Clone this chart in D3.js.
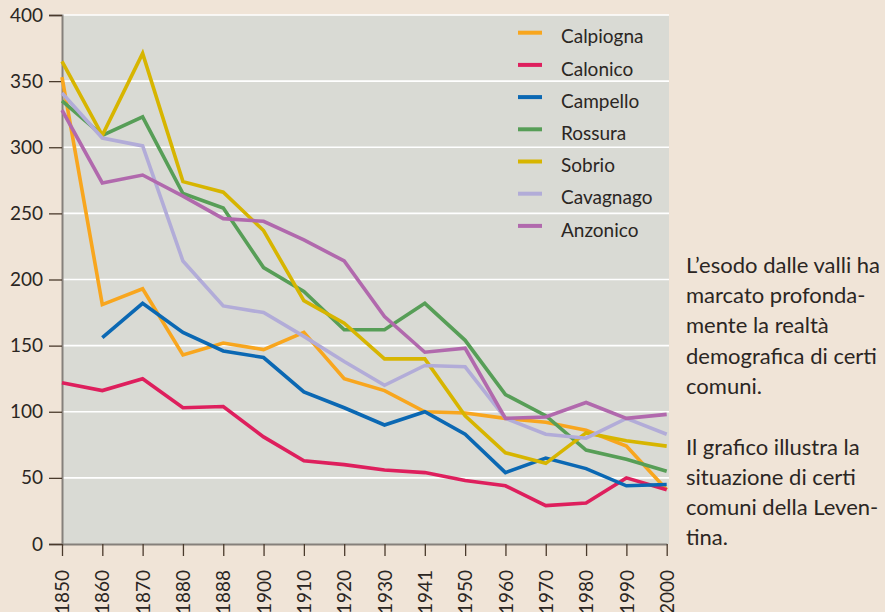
<!DOCTYPE html>
<html>

<head>
    <meta charset="UTF-8" />
    <script src="https://d3js.org/d3.v7.min.js"></script>
    <style>
        body { margin: 0; background: #f0e4d7; }
        text { font-family: Lato, "Open Sans", sans-serif; fill: #2b2623; }
    </style>
</head>

<body>
    <script>
        const years = ["1850", "1860", "1870", "1880", "1888", "1900", "1910", "1920",
            "1930", "1941", "1950", "1960", "1970", "1980", "1990", "2000"];
        const yTicks = [0, 50, 100, 150, 200, 250, 300, 350, 400];

        const calpiogna = [353, 181, 193, 143, 152, 147, 160, 125, 116, 100, 99, 95, 92, 86, 74, 41];
        const calonico = [122, 116, 125, 103, 104, 81, 63, 60, 56, 54, 48, 44, 29, 31, 50, 41];
        const campello = [null, 156, 182, 160, 146, 141, 115, 103, 90, 100, 83, 54, 65, 57, 44, 45];
        const rossura = [335, 309, 323, 265, 254, 209, 191, 162, 162, 182, 154, 113, 97, 71, 64, 55];
        const sobrio = [365, 309, 371, 274, 266, 237, 184, 167, 140, 140, 97, 69, 61, 84, 78, 74];
        const cavagnago = [341, 307, 301, 214, 180, 175, 157, 138, 120, 135, 134, 95, 83, 80, 95, 83];
        const anzonico = [328, 273, 279, 263, 246, 244, 230, 214, 172, 145, 148, 95, 96, 107, 95, 98];

        const names = ["Calpiogna", "Calonico", "Campello", "Rossura", "Sobrio", "Cavagnago", "Anzonico"];
        const colors = ["#f8a61e", "#de1f5d", "#0b68b3", "#579e57", "#d7b500", "#b2acd8", "#b169ad"];
        const values = [calpiogna, calonico, campello, rossura, sobrio, cavagnago, anzonico];

        const noteLines = ["L’esodo dalle valli ha", "marcato profonda-", "mente la realtà",
            "demografica di certi", "comuni.", "", "Il grafico illustra la", "situazione di certi",
            "comuni della Leven-", "tina."];

        let width = 885;
        let height = 612;
        margin = ({ top: 15, right: 217, bottom: 68, left: 62 })

        let svg = d3.select("body")
            .append("svg")
            .attr("width", width)
            .attr("height", height)

        let x = d3.scalePoint()
            .domain(years)
            .range([margin.left, width - margin.right - 1.3])

        let y = d3.scaleLinear()
            .domain([0, 400])
            .range([height - margin.bottom, margin.top])

        // plot background
        svg.append("rect")
            .attr("x", margin.left)
            .attr("y", margin.top)
            .attr("width", width - margin.right + 1 - margin.left)
            .attr("height", y(0) - margin.top)
            .attr("fill", "#d9dad4")

        // gridlines
        svg.append("g")
            .selectAll("line")
            .data(yTicks.slice(1))
            .join("line")
            .attr("x1", margin.left)
            .attr("x2", width - margin.right + 1)
            .attr("y1", d => y(d))
            .attr("y2", d => y(d))
            .attr("stroke", "#ffffff")
            .attr("stroke-width", 1.6)

        // y axis
        let yAxis = svg.append("g")
            .attr("transform", `translate(${margin.left},0)`)
            .call(d3.axisLeft(y).tickValues(yTicks).tickSize(13).tickPadding(6));
        yAxis.select(".domain").attr("stroke", "#85807b").attr("stroke-width", 2);
        yAxis.selectAll(".tick line").attr("stroke", "#4a3a2c").attr("stroke-width", 1.3);
        yAxis.selectAll(".tick text").attr("font-size", 19).attr("fill", "#2b2623")
            .attr("font-family", "Lato, sans-serif");

        // x axis
        let xAxis = svg.append("g")
            .attr("transform", `translate(0,${y(0)})`)
            .call(d3.axisBottom(x).tickSize(12).tickSizeOuter(0));
        xAxis.select(".domain").attr("stroke", "#85807b").attr("stroke-width", 2);
        xAxis.selectAll(".tick line").attr("stroke", "#4a3a2c").attr("stroke-width", 1.3);
        xAxis.selectAll(".tick text")
            .attr("font-size", 19)
            .attr("fill", "#2b2623")
            .attr("font-family", "Lato, sans-serif")
            .attr("transform", "rotate(-90)")
            .attr("x", -26)
            .attr("y", 0)
            .attr("dy", "0.35em")
            .style("text-anchor", "end");

        let line = d3.line()
            .defined(d => d.v !== null)
            .x(d => x(d.year))
            .y(d => y(d.v));

        svg.append("g")
            .selectAll("path")
            .data(values)
            .join("path")
            .attr("fill", "none")
            .attr("stroke", (d, i) => colors[i])
            .attr("stroke-width", 3.6)
            .attr("stroke-linejoin", "miter")
            .attr("d", d => line(d.map((v, i) => ({ year: years[i], v: v }))));

        // legend
        let legend = svg.append("g")
            .selectAll("g")
            .data(names)
            .join("g")
            .attr("transform", (d, i) => `translate(518,${32.7 + i * 32.2})`);
        legend.append("line")
            .attr("x1", 0)
            .attr("x2", 24)
            .attr("stroke", (d, i) => colors[i])
            .attr("stroke-width", 4);
        legend.append("text")
            .attr("x", 43)
            .attr("y", 4)
            .attr("dy", "0.35em")
            .attr("font-size", 19)
            .text(d => d);

        // side note
        svg.append("g")
            .selectAll("text")
            .data(noteLines)
            .join("text")
            .attr("x", 686)
            .attr("y", (d, i) => 265 + i * 30.3)
            .attr("dy", "0.35em")
            .attr("font-size", 22)
            .attr("fill", "#333")
            .text(d => d);
    </script>
</body>

</html>
